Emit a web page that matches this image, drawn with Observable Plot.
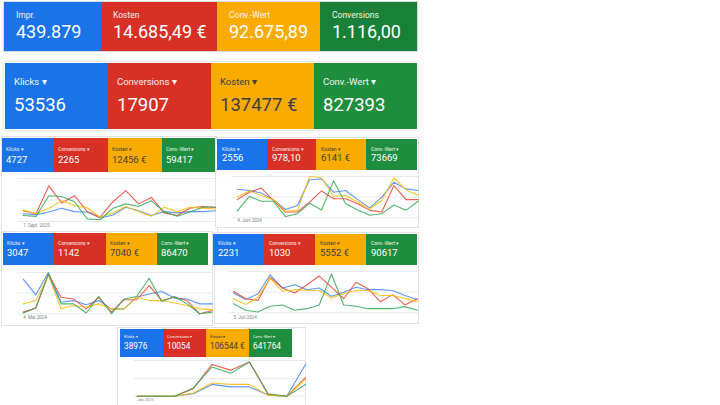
<!DOCTYPE html>
<html><head><meta charset="utf-8">
<script src="https://cdn.jsdelivr.net/npm/d3@7"></script>
<script src="https://cdn.jsdelivr.net/npm/@observablehq/plot@0.6"></script>
<style>
body{margin:0;background:#fff;font-family:Roboto,"Noto Sans",sans-serif;}
#root{position:relative;width:720px;height:405px;overflow:hidden;background:#fff;}
.box{position:absolute;box-sizing:border-box;background:#fff;}
.tile{position:absolute;box-sizing:border-box;color:#fff;overflow:hidden;white-space:nowrap;}
.lab,.val{position:absolute;line-height:1;white-space:nowrap;}
.chart{position:absolute;}
.chart svg{overflow:visible;}
</style></head><body><div id="root"></div>
<script>
// ---------- data ----------
const metricNames = ["Klicks", "Conversions", "Kosten", "Conv.-Wert"];
const tileColors = ["#1a73e8", "#d93025", "#f9ab00", "#1e8e3e"];
const lineColors = ["#4285f4", "#ea4335", "#fbbc04", "#34a853"];

const summaryLabels = ["Impr.", "Kosten", "Conv.-Wert", "Conversions"];
const summaryValues = ["439.879", "14.685,49 €", "92.675,89", "1.116,00"];
const summaryColors = ["#1a73e8", "#d93025", "#f9ab00", "#188038"];

const totalValues = ["53536", "17907", "137477 €", "827393"];

const p1Values = ["4727", "2265", "12456 €", "59417"];
const p2Values = ["2556", "978,10", "6141 €", "73669"];
const p3Values = ["3047", "1142", "7040 €", "86470"];
const p4Values = ["2231", "1030", "5552 €", "90617"];
const p5Values = ["38976", "10054", "106544 €", "641764"];

const dateLabels = ["1. Sept. 2025", "4. Juni 2024", "4. Mai 2024", "5. Juli 2024", "Jan 2025"];

const p1Klicks = [18,16,22,31,23,22,8,15,33,25,14,23,20,23,23,25];
const p1Conversions = [25,18,83,43,60,23,10,46,72,41,56,20,14,31,35,33];
const p1Kosten = [27,18,31,48,37,32,10,20,35,23,12,33,23,33,31,29];
const p1ConvWert = [14,12,60,58,46,6,4,31,41,35,48,23,12,22,33,33];

const p2Klicks = [69,66,60,44,20,30,92,94,62,66,44,24,50,86,70,66];
const p2Conversions = [44,62,72,42,14,14,38,65,46,46,34,18,14,78,44,44];
const p2Kosten = [50,65,54,44,16,18,100,97,52,54,38,22,42,97,68,54];
const p2ConvWert = [16,52,40,40,3,10,35,19,90,34,19,6,10,31,18,40];

const p3Klicks = [84,46,100,28,32,22,32,12,12,40,48,54,38,36,24,24];
const p3Conversions = [4,14,96,40,36,12,40,4,34,34,68,32,40,32,0,8];
const p3Kosten = [24,32,94,12,20,16,24,12,12,40,32,32,26,20,12,10];
const p3ConvWert = [2,14,96,24,24,2,42,0,36,42,86,30,42,24,0,4];

const p4Klicks = [48,32,46,92,60,68,56,60,40,50,62,56,56,54,42,32];
const p4Conversions = [52,34,30,86,60,48,68,89,62,34,74,58,27,44,19,34];
const p4Kosten = [34,20,38,84,52,56,54,54,36,46,54,54,42,42,35,27];
const p4ConvWert = [22,6,2,16,19,6,10,19,94,19,16,10,10,10,15,6];

const p5Klicks = [0,0,0,7,33,26,26,3,0,89];
const p5Conversions = [0,0,0,21,89,73,96,5,0,51];
const p5Kosten = [0,0,0,9,37,33,33,3,0,48];
const p5ConvWert = [0,0,0,23,82,64,96,7,0,33];

// ---------- layout ----------
const root = document.getElementById("root");
function el(cls, css, parent){ const d=document.createElement("div"); d.className=cls; Object.assign(d.style, css); (parent||root).appendChild(d); return d; }

function tileRow(cfg, labels, values, colors, arrow, darkYellow){
  for(let i=0;i<4;i++){
    const t = el("tile", {left:cfg.xs[i]+"px", top:cfg.y+"px", width:cfg.ws[i]+"px", height:cfg.h+"px", background:colors[i]});
    const fg = (darkYellow && i===2) ? "#3c4043" : "#fff";
    const l = el("lab", {left:cfg.pad+"px", top:(cfg.ly - 0.49*cfg.lfs)+"px", fontSize:cfg.lfs+"px", color:fg, opacity: fg==="#fff"?0.92:1}, t);
    l.textContent = labels[i] + (arrow ? " \u25BE" : "");
    const v = el("val", {left:cfg.pad+"px", top:(cfg.vy - 0.49*cfg.vfs)+"px", fontSize:cfg.vfs+"px", color:fg}, t);
    v.textContent = values[i];
  }
}

function lineChart(series, date, g){
  const n = series[0].length;
  const k = (g.x1 - g.x0)/(n-1);
  const dom = [-(g.x0 - g.gl)/k, (n-1) + (g.gr - g.x1)/k];
  const rows = series.flatMap((s,i)=> s.map((v,j)=>({i:j, v, m:metricNames[i]})));
  const top = g.gt - 3, bottom = g.dy + 4;
  const plot = Plot.plot({
    width: g.gr - g.gl, height: bottom - top,
    marginLeft:0, marginRight:0, marginTop:3, marginBottom: bottom - g.gb,
    x:{domain:dom, axis:null, label:null}, y:{domain:[0,100], axis:null, label:null},
    color:{domain:metricNames, range:lineColors},
    style:{background:"transparent", fontFamily:"Roboto, sans-serif"},
    marks:[
      Plot.ruleY([0,50,100], {stroke:"#e8eaed", strokeWidth:1}),
      Plot.line(rows, {x:"i", y:"v", z:"m", stroke:"m", strokeWidth:1.1, strokeOpacity:0.85}),
      Plot.axisX({ticks:[0], tickFormat:()=>date, label:null, tickSize:0, tickPadding:(g.dy - g.gb) - g.fs/2 - 0.5, textAnchor:"start", fontSize:g.fs, fill:"#80868b"})
    ]
  });
  const c = el("chart", {left:g.gl+"px", top:top+"px"});
  c.appendChild(plot);
}

// top summary row
el("box", {left:"3px", top:"1px", width:"415px", height:"51px", border:"1px solid #dadce0"});
tileRow({xs:[4,101,217,320], ws:[97,116,103,97], y:2, h:49, pad:12, ly:13, vy:30, lfs:8.5, vfs:18}, summaryLabels, summaryValues, summaryColors, false, false);

// totals row
el("box", {left:"4px", top:"62px", width:"414px", height:"68px", boxShadow:"0 0 2px rgba(0,0,0,0.25)"});
tileRow({xs:[5,108,211,314], ws:[103,103,103,103], y:63, h:66, pad:9, ly:19, vy:42, lfs:9.5, vfs:18.5}, metricNames, totalValues, tileColors, true, true);

// panels
const panels = [
  {card:[1,136,217,97], tiles:{xs:[2,54,108,162], ws:[52,54,54,53], y:138, h:34, pad:4, ly:11, vy:22, lfs:5, vfs:9.5},
   vals:p1Values, series:[p1Klicks,p1Conversions,p1Kosten,p1ConvWert], date:dateLabels[0],
   g:{gl:17, gr:217, x0:22.7, x1:215, gt:178, gb:221, dy:226, fs:4.5}},
  {card:[215,137,204,91], tiles:{xs:[217,267,316,366], ws:[50,49,50,51], y:139, h:31, pad:5, ly:10, vy:19, lfs:5, vfs:9.5},
   vals:p2Values, series:[p2Klicks,p2Conversions,p2Kosten,p2ConvWert], date:dateLabels[1],
   g:{gl:231, gr:418, x0:236.7, x1:417.5, gt:176, gb:217.3, dy:221.5, fs:4.5}},
  {card:[1,231,212,95], tiles:{xs:[3,54,106,157], ws:[51,52,51,51], y:233, h:32, pad:4, ly:10, vy:20, lfs:5, vfs:9.5},
   vals:p3Values, series:[p3Klicks,p3Conversions,p3Kosten,p3ConvWert], date:dateLabels[2],
   g:{gl:17, gr:212, x0:22.7, x1:211.7, gt:271.7, gb:313, dy:318, fs:4.5}},
  {card:[214,232,205,92], tiles:{xs:[213,264,315,366], ws:[51,51,51,51], y:234, h:31, pad:5, ly:9, vy:19, lfs:5, vfs:9.5},
   vals:p4Values, series:[p4Klicks,p4Conversions,p4Kosten,p4ConvWert], date:dateLabels[3],
   g:{gl:229, gr:418, x0:233, x1:416.7, gt:271, gb:312.3, dy:318, fs:4.5}},
  {card:[117,327,189,80], tiles:{xs:[120,163,206,249], ws:[43,43,43,43], y:329, h:28, pad:4, ly:8, vy:17, lfs:4, vfs:8.3},
   vals:p5Values, series:[p5Klicks,p5Conversions,p5Kosten,p5ConvWert], date:dateLabels[4],
   g:{gl:134, gr:305, x0:136.7, x1:305, gt:360.3, gb:396, dy:400, fs:4}}
];
for(const p of panels){
  el("box", {left:p.card[0]+"px", top:p.card[1]+"px", width:p.card[2]+"px", height:p.card[3]+"px", border:"1px solid #e3e3e3"});
}
for(const p of panels){
  tileRow(p.tiles, metricNames, p.vals, tileColors, true, true);
  lineChart(p.series, p.date, p.g);
}
</script></body></html>
